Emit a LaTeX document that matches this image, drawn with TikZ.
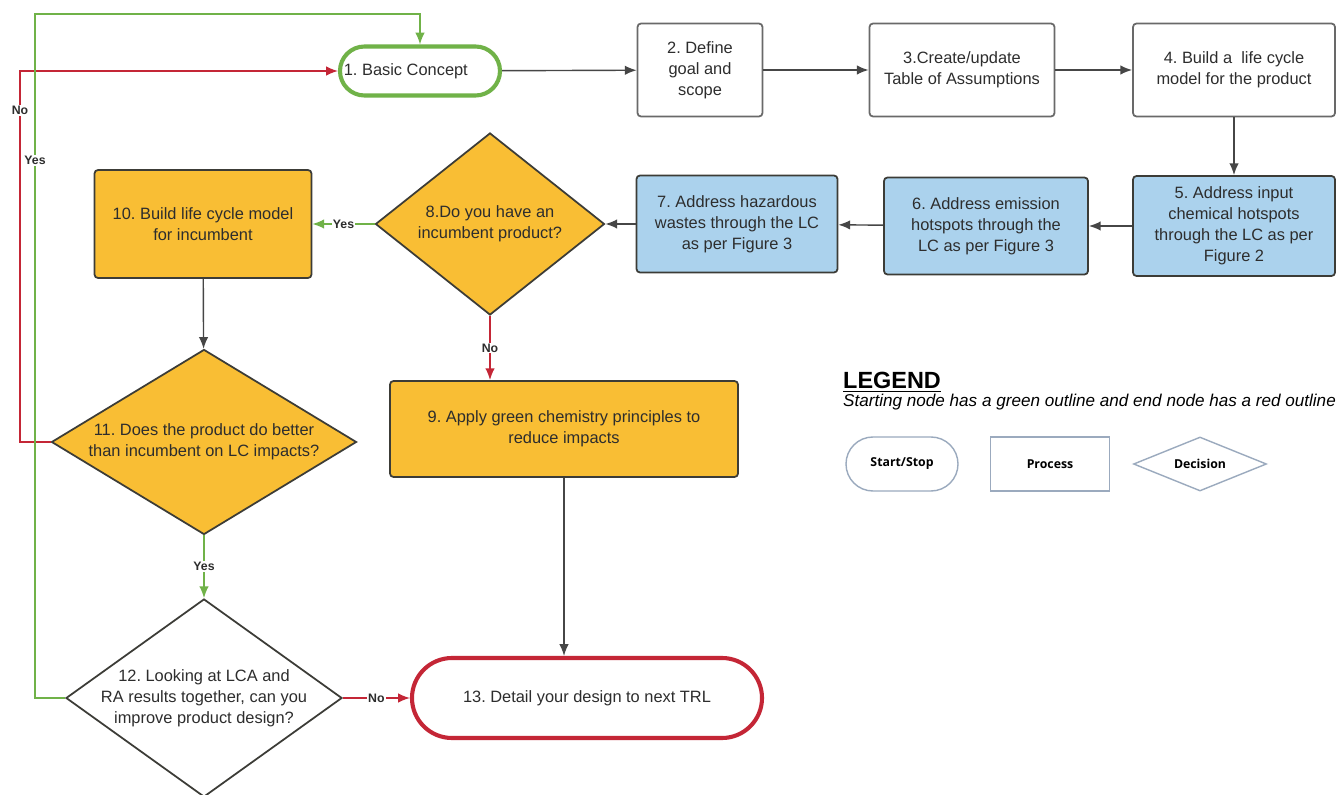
\documentclass[tikz,border=0pt]{standalone}
\usepackage{fontspec}
\setmainfont{Liberation Sans}
\newfontfamily\legendfont{Open Sans}
\usetikzlibrary{arrows,arrows.meta,shapes.geometric,shapes.misc}

\definecolor{startgreen}{RGB}{112,178,72}
\definecolor{endred}{RGB}{196,38,54}
\definecolor{stepyellow}{RGB}{249,190,52}
\definecolor{stepblue}{RGB}{171,210,237}
\definecolor{edgegray}{RGB}{70,70,70}
\definecolor{boxgray}{RGB}{105,105,105}
\definecolor{boxdark}{RGB}{60,60,55}
\definecolor{txtgray}{RGB}{45,45,45}
\definecolor{legendblue}{RGB}{155,170,190}

\begin{document}
\frenchspacing
\begin{tikzpicture}[x=0.03cm,y=-0.03cm]
        \tikzstyle{every node}=[font=\fontsize{14}{18}\selectfont,text=txtgray,align=center]
        \tikzstyle{startstop}=[rounded rectangle,draw,line width=3.5pt,inner sep=0pt]
        \tikzstyle{stepbox}=[rectangle,rounded corners=3pt,draw=boxgray,line width=1.5pt,inner sep=0pt]
        \tikzstyle{colorbox}=[stepbox,draw=boxdark]
        \tikzstyle{choice}=[diamond,draw=boxdark,line width=1.5pt,inner sep=0pt,fill=stepyellow]
        \tikzstyle{flow}=[-{Latex[length=10pt,width=8pt]},line width=1.2pt,color=edgegray]
        \tikzstyle{yesline}=[flow,color=startgreen]
        \tikzstyle{noline}=[flow,color=endred]
        \tikzstyle{lbl}=[font=\fontsize{10.5}{12}\selectfont\bfseries,fill=white,inner sep=1pt]
        \tikzstyle{legendshape}=[draw=legendblue,line width=1.2pt,inner sep=0pt,font=\legendfont\fontsize{10.5}{12}\selectfont\bfseries,text=black]

        \path[use as bounding box,fill=white] (0,0) rectangle (1339,795);

        %%% Top row
        \node[startstop,draw=startgreen,minimum width=4.8cm,minimum height=1.47cm] (n1) at (420,71) {1. Basic Concept\hspace*{0.85cm}};
        \node[stepbox,minimum width=3.75cm,minimum height=2.79cm] (n2) at (700,70) {2. Define\\goal and\\scope};
        \node[stepbox,minimum width=5.55cm,minimum height=2.79cm] (n3) at (962,70) {3.Create/update\\Table of Assumptions};
        \node[stepbox,minimum width=6.06cm,minimum height=2.79cm] (n4) at (1234,70) {4. Build a\ \ life cycle\\model for the product};

        %%% Second row
        \node[colorbox,fill=stepblue,minimum width=6.06cm,minimum height=3cm] (n5) at (1234,226) {5. Address input\\chemical hotspots\\through the LC as per\\Figure 2};
        \node[colorbox,fill=stepblue,minimum width=6.12cm,minimum height=2.91cm] (n6) at (986,226) {6. Address emission\\hotspots through the\\LC as per Figure 3};
        \node[colorbox,fill=stepblue,minimum width=6.03cm,minimum height=2.91cm] (n7) at (737,224) {7. Address hazardous\\wastes through the LC\\as per Figure 3};
        \node[choice,minimum width=6.87cm,minimum height=5.46cm,label={[align=center]center:{8.Do you have an\\incumbent product?}}] (d8) at (490,224) {};
        \node[colorbox,fill=stepyellow,minimum width=6.51cm,minimum height=3.24cm] (n10) at (203,224) {10. Build life cycle model\\for incumbent};

        %%% Lower part
        \node[choice,minimum width=9.15cm,minimum height=5.55cm,label={[align=center]center:{11. Does the product do better\\than incumbent on LC impacts?}}] (d11) at (204,442) {};
        \node[colorbox,fill=stepyellow,minimum width=10.44cm,minimum height=2.88cm] (n9) at (564,429) {9. Apply green chemistry principles to\\reduce impacts};
        \node[choice,fill=white,minimum width=8.28cm,minimum height=5.94cm,label={[align=center]center:{12. Looking at LCA and\\RA results together, can you\\improve product design?}}] (d12) at (204,698) {};
        \node[startstop,draw=endred,minimum width=10.5cm,minimum height=2.4cm] (n13) at (587,698) {13. Detail your design to next TRL};

        \coordinate (redbend) at (20,71);
        \coordinate (greenbend) at (35,14);

        \draw[flow] (n1) -- (n2);
        \draw[flow] (n2) -- (n3);
        \draw[flow] (n3) -- (n4);
        \draw[flow] (n4) -- (n5);
        \draw[flow] (n5) -- (n6);
        \draw[flow] (n6) -- (n7);
        \draw[flow] (n7) -- (d8);
        \draw[yesline] (d8) -- node[lbl] {Yes} (n10);
        \draw[noline] (d8) -- node[lbl] {No} (d8 |- n9.north);
        \draw[flow] (n10) -- (d11);
        \draw[yesline] (d11) -- node[lbl] {Yes} (d12);
        \draw[noline] (d12) -- node[lbl] {No} (n13);
        \draw[flow] (n9) -- (n9 |- n13.north);
        \draw[noline] (d11.west) -| node[lbl,pos=0.947] {No} (redbend) -- (n1.west);
        \draw[yesline] (d12.west) -| node[lbl,pos=0.893] {Yes} (greenbend) -| (n1.north);

        %%% Legend
        \node[font=\fontsize{20}{24}\selectfont\bfseries,text=black,inner sep=0pt,anchor=base west] (legendtitle) at (843,389) {\underline{LEGEND}};
        \node[font=\fontsize{14.6}{17}\selectfont\itshape,text=black,inner sep=0pt,anchor=base west] (legendnote) at (843,406) {Starting node has a green outline and end node has a red outline};
        \node[legendshape,rounded rectangle,minimum width=3.36cm,minimum height=1.62cm] (keystart) at (902,464) {Start/Stop};
        \node[legendshape,rectangle,minimum width=3.57cm,minimum height=1.62cm] (keyprocess) at (1050,464) {Process};
        \node[legendshape,diamond,minimum width=3.99cm,minimum height=1.62cm,label={[legendshape,draw=none]center:Decision}] (keydecision) at (1200,464) {};
    \end{tikzpicture}
\end{document}
